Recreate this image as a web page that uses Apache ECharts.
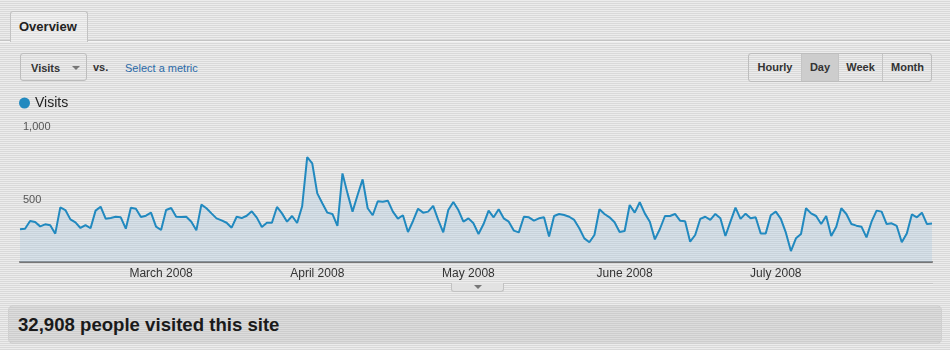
<!DOCTYPE html>
<html>
<head>
<meta charset="utf-8">
<script src="https://cdn.jsdelivr.net/npm/echarts@6/dist/echarts.min.js"></script>
<style>
  html, body { margin:0; padding:0; }
  body {
    width:950px; height:350px; overflow:hidden; position:relative;
    font-family: "Liberation Sans", Arial, Helvetica, sans-serif;
    background: repeating-linear-gradient(to bottom, #ececec 0px, #ececec 1px, #d9d9d9 1px, #d9d9d9 2px);
  }
  .abs { position:absolute; }
  #topline { left:0; top:40px; width:950px; height:1px; background:#c4c4c4; border-bottom:1px solid #f4f4f4; }
  #tab { left:10px; top:11px; width:76px; height:30px; border:1px solid #c2c2c2; border-bottom:none;
         border-radius:3px 3px 0 0;
         background: repeating-linear-gradient(to bottom, #f0f0f0 0px, #f0f0f0 1px, #e0e0e0 1px, #e0e0e0 2px);
         font-weight:bold; font-size:13px; color:#222; line-height:30px; text-indent:8px; }
  #metricBtn { left:20px; top:53px; width:67px; height:28px; border:1px solid #bdbdbd; border-radius:3px;
         font-weight:bold; font-size:11px; color:#333; line-height:28px; box-sizing:border-box; padding-left:10px; }
  #metricBtn .tri { position:absolute; left:51px; top:12px; width:0; height:0;
         border-left:4px solid transparent; border-right:4px solid transparent; border-top:4px solid #777; }
  #vs { left:93px; top:61px; font-size:11px; font-weight:bold; color:#333; }
  #sel { left:125px; top:62px; font-size:11px; color:#2a6aa8; }
  #btns { left:748px; top:53px; width:184px; height:29px; border:1px solid #bdbdbd; border-radius:3px; box-sizing:border-box; overflow:hidden; }
  #btns div { position:absolute; top:0; height:27px; line-height:27px; text-align:center;
         font-size:11px; font-weight:bold; color:#333; border-left:1px solid #c4c4c4; box-sizing:border-box; }
  #btns .day { background:#cdcdcd; }
  #chart { left:0; top:0; width:950px; height:350px; }
  #panelLine { left:20px; top:283px; width:913px; height:1px; background:#c6c6c6; border-bottom:1px solid #f2f2f2; }
  #handle { left:451px; top:283px; width:51px; height:8px; border:1px solid #c2c2c2; border-top:none; border-radius:0 0 3px 3px;
         background:#e2e2e2; }
  #handle .tri { position:absolute; left:22px; top:2px; width:0; height:0;
         border-left:4px solid transparent; border-right:4px solid transparent; border-top:4px solid #777; }
  #summary { left:8px; top:305px; width:934px; height:39px; border-radius:5px; border:1px solid #d0d0d0; box-sizing:border-box;
         background: repeating-linear-gradient(to bottom, #dcdcdc 0px, #dcdcdc 1px, #cdcdcd 1px, #cdcdcd 2px);
         font-weight:bold; font-size:18.6px; color:#1a1a1a; line-height:38px; padding-left:9px; }
</style>
</head>
<body>
<div class="abs" id="topline"></div>
<div class="abs" id="tab">Overview</div>
<div class="abs" id="metricBtn">Visits<span class="tri"></span></div>
<div class="abs" id="vs">vs.</div>
<div class="abs" id="sel">Select a metric</div>
<div class="abs" id="btns">
  <div style="left:0;width:52px;border-left:none;">Hourly</div>
  <div class="day" style="left:52px;width:37px;">Day</div>
  <div style="left:89px;width:44px;">Week</div>
  <div style="left:133px;width:50px;">Month</div>
</div>
<div class="abs" id="panelLine"></div>
<div class="abs" id="handle"><span class="tri"></span></div>
<div class="abs" id="summary">32,908 people visited this site</div>
<div class="abs" id="chart"></div>
<script>
// ---- data ----
var seriesName = 'Visits';
var startDate = '2008-02-02';
var monthLabels = ['January 2008','February 2008','March 2008','April 2008','May 2008','June 2008','July 2008','August 2008'];
var yTicks = [0, 500, 1000];
var visits = [
224,228,281,274,244,258,251,194,374,356,
292,272,233,253,231,352,379,297,301,310,
306,228,372,365,308,317,338,242,219,356,
370,310,308,310,276,217,393,368,333,299,
285,269,235,310,301,317,347,304,240,269,
269,377,333,276,315,267,382,719,676,470,
402,338,329,247,607,470,345,459,566,368,
320,416,413,420,345,297,320,205,281,365,
338,345,384,288,203,356,411,356,276,299,
265,192,260,352,306,361,299,276,215,203,
310,306,283,299,306,174,315,329,322,310,
288,231,162,135,185,361,329,306,272,205,
212,390,338,409,333,276,155,226,315,315,
329,283,279,139,185,295,310,288,329,299,
178,276,372,295,331,299,306,196,196,320,
345,295,201,75,162,192,368,333,315,260,
315,178,242,368,329,260,249,242,169,276,
352,345,260,265,247,135,196,326,306,338,
260,263
];

// categories: one date per value, starting at startDate
var dates = [];
(function(){
  var d = new Date(startDate + 'T00:00:00Z');
  for (var i = 0; i < visits.length; i++) {
    dates.push(d.toISOString().slice(0,10));
    d.setUTCDate(d.getUTCDate() + 1);
  }
})();

var chart = echarts.init(document.getElementById('chart'), null, {renderer:'canvas'});
chart.setOption({
  backgroundColor: 'transparent',
  animation: false,
  legend: {
    data: [seriesName],
    left: 14, top: 91,
    icon: 'circle', itemWidth: 11, itemHeight: 11,
    textStyle: { fontSize: 14, color: '#222', fontFamily: '"Liberation Sans", Arial, sans-serif' }
  },
  grid: { left: 20, right: 18, top: 116, bottom: 88, containLabel: false, outerBoundsMode: 'none' },
  xAxis: {
    type: 'category',
    boundaryGap: false,
    data: dates,
    axisLine: { lineStyle: { color: '#767676', width: 2 } },
    axisTick: { show: false },
    splitLine: { show: false },
    axisLabel: {
      interval: function (idx, val) { return val.slice(8) === '01' && idx < dates.length - 1; },
      formatter: function (val) { return monthLabels[parseInt(val.slice(5,7), 10) - 1]; },
      color: '#333', fontSize: 12, margin: 6,
      fontFamily: '"Liberation Sans", Arial, sans-serif'
    }
  },
  yAxis: {
    type: 'value',
    min: yTicks[0], max: yTicks[yTicks.length - 1], interval: 500,
    axisLine: { show: false },
    axisTick: { show: false },
    splitLine: { show: false },
    axisLabel: {
      inside: true, margin: 3,
      verticalAlign: 'top',
      padding: [5, 0, 0, 0],
      color: '#555', fontSize: 11,
      fontFamily: '"Liberation Sans", Arial, sans-serif',
      formatter: function (v) { return v === 0 ? '' : v.toLocaleString('en-US'); }
    }
  },
  series: [{
    name: seriesName,
    type: 'line',
    data: visits,
    showSymbol: false,
    symbol: 'circle',
    itemStyle: { color: '#2189bf' },
    lineStyle: { color: '#2189bf', width: 2 },
    areaStyle: { color: 'rgba(170,202,224,0.48)' }
  }]
});
</script>
</body>
</html>
